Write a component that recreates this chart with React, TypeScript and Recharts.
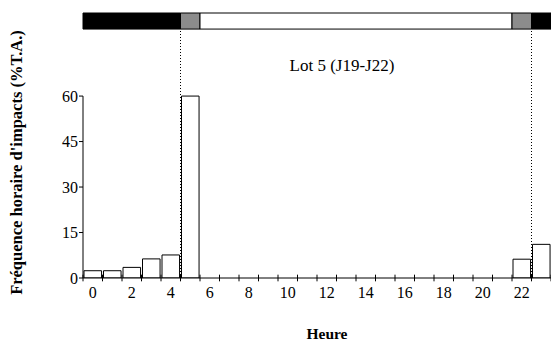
import React from 'react';
import { BarChart, Bar, XAxis, YAxis, ReferenceArea, ReferenceLine } from 'recharts';

// hourly impact frequency (% T.A.), hours 0..23
const hours = [0, 1, 2, 3, 4, 5, 6, 7, 8, 9, 10, 11, 12, 13, 14, 15, 16, 17, 18, 19, 20, 21, 22, 23];
const frequency = [2.4, 2.4, 3.5, 6.3, 7.6, 60, 0, 0, 0, 0, 0, 0, 0, 0, 0, 0, 0, 0, 0, 0, 0, 0, 6.2, 11.1];

const yTicks = [0, 15, 30, 45, 60];
const hourEdges = [0, 1, 2, 3, 4, 5, 6, 7, 8, 9, 10, 11, 12, 13, 14, 15, 16, 17, 18, 19, 20, 21, 22, 23, 24];
const hourLabels = [0, 2, 4, 6, 8, 10, 12, 14, 16, 18, 20, 22];

// light regime strip on top: night / twilight / day
const lightStart = [0, 5, 6, 22, 23];
const lightEnd = [5, 6, 22, 23, 24];
const lightPhase = ['nuit', 'aube', 'jour', 'crépuscule', 'nuit'];
const dayLimits = [5, 23];

const title = 'Lot 5 (J19-J22)';

const data = hours.map((h, i) => ({ mid: h + 0.5, value: frequency[i] }));

const phaseFill: Record<string, string> = {
  nuit: '#000',
  aube: '#8c8c8c',
  jour: '#fff',
  'crépuscule': '#8c8c8c',
};

const FONT = '"Liberation Serif", "DejaVu Serif", serif';
const Y_TOP = 87.4;
const STRIP_LOW = 82.1;
const TICK_HALF = 1.1;

const App: React.FC = () => (
  <div style={{ position: 'fixed', left: 0, top: 0, width: 551, height: 343, background: '#fff', fontFamily: FONT }}>
    <style>{`svg text { font-family: ${FONT}; }`}</style>
    <BarChart
      width={551}
      height={343}
      data={data}
      margin={{ top: 13, right: 0, left: 0, bottom: 0 }}
      barCategoryGap={0}
      style={{ fontFamily: FONT }}
    >
      <XAxis
        type="number"
        dataKey="mid"
        domain={[0, 24]}
        ticks={hourLabels.map((h) => h + 0.5)}
        interval={0}
        tickFormatter={(v: number) => String(Math.floor(v))}
        axisLine={false}
        tickLine={false}
        tick={{ fill: '#000', fontSize: 16, fontFamily: FONT }}
        height={65}
        tickMargin={3}
        allowDataOverflow
        label={{ value: 'Heure', position: 'insideBottom', offset: 4, dx: 10, fill: '#000', fontSize: 15.5, fontWeight: 'bold', fontFamily: FONT }}
      />
      <YAxis
        type="number"
        domain={[0, Y_TOP]}
        ticks={yTicks}
        interval={0}
        width={83}
        axisLine={false}
        tickSize={4}
        stroke="#000"
        tick={{ fill: '#000', fontSize: 16, fontFamily: FONT }}
        tickMargin={1}
        allowDataOverflow
        label={{
          value: "Fréquence horaire d'impacts (%T.A.)",
          angle: -90,
          position: 'insideLeft',
          dx: 11,
          dy: 17,
          textAnchor: 'middle',
          fill: '#000',
          fontSize: 16.5,
          fontWeight: 'bold',
          fontFamily: FONT,
        }}
      />
      <ReferenceLine
        segment={[{ x: 0, y: 0 }, { x: 0, y: 60 }]}
        stroke="#000"
        strokeWidth={1}
        ifOverflow="visible"
      />
      <ReferenceLine y={0} stroke="#000" strokeWidth={1} />
      {hourEdges.map((x) => (
        <ReferenceLine
          key={`tick-${x}`}
          segment={[{ x, y: -TICK_HALF }, { x, y: TICK_HALF }]}
          stroke="#000"
          strokeWidth={1}
          ifOverflow="visible"
        />
      ))}
      {lightStart.map((s, i) => (
        <ReferenceArea
          key={`light-${i}`}
          x1={s}
          x2={lightEnd[i]}
          y1={STRIP_LOW}
          y2={Y_TOP}
          fill={phaseFill[lightPhase[i]]}
          fillOpacity={1}
          stroke="#000"
          strokeWidth={1}
          ifOverflow="visible"
        />
      ))}
      {dayLimits.map((x) => (
        <ReferenceLine
          key={`lim-${x}`}
          segment={[{ x, y: 0 }, { x, y: STRIP_LOW }]}
          stroke="#000"
          strokeDasharray="1 2"
          strokeWidth={1}
        />
      ))}
      <ReferenceLine
        y={70.2}
        stroke="none"
        label={{ value: title, position: 'center', dx: 25, fill: '#000', fontSize: 17, fontFamily: FONT }}
      />
      <Bar
        dataKey="value"
        fill="#fff"
        stroke="#000"
        strokeWidth={1}
        barSize={19.5}
        isAnimationActive={false}
      />
    </BarChart>
  </div>
);

export default App;
